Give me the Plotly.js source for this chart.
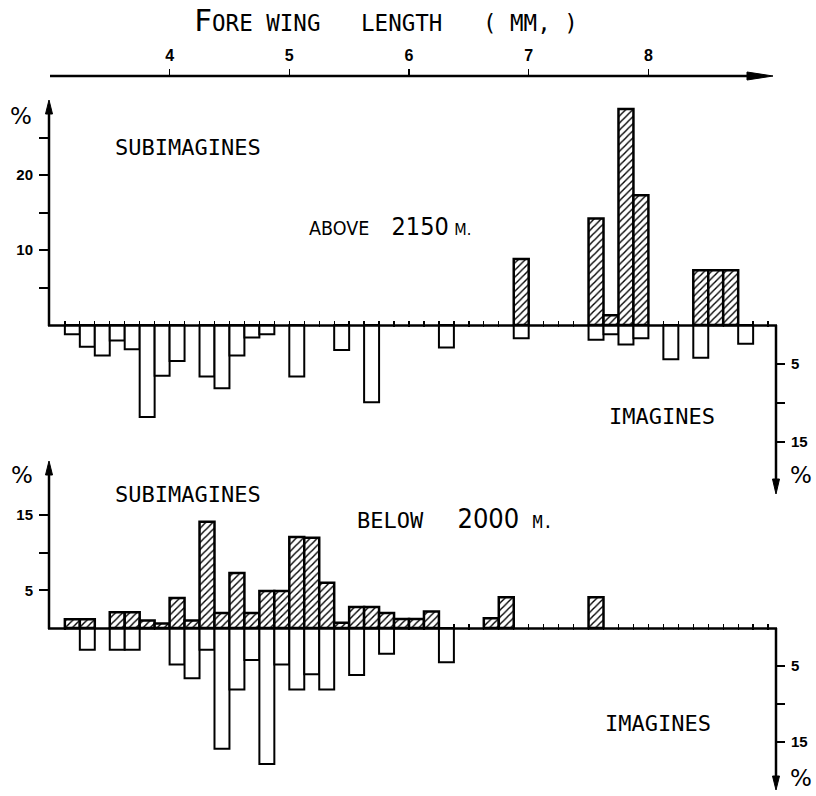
<!DOCTYPE html>
<html>
<head>
<meta charset="utf-8">
<script src="https://cdn.plot.ly/plotly-3.0.1.min.js"></script>
<style>html,body{margin:0;padding:0;background:#fff;}#chart{width:816px;height:796px;}</style>
</head>
<body>
<div id="chart"></div>
<script>
// ---- data (fore wing length bins of 0.125 mm, percentages) ----
const binMid = [3.1875, 3.3125, 3.4375, 3.5625, 3.6875, 3.8125, 3.9375, 4.0625, 4.1875, 4.3125,
  4.4375, 4.5625, 4.6875, 4.8125, 4.9375, 5.0625, 5.1875, 5.3125, 5.4375, 5.5625,
  5.6875, 5.8125, 5.9375, 6.0625, 6.1875, 6.3125, 6.4375, 6.5625, 6.6875, 6.8125,
  6.9375, 7.0625, 7.1875, 7.3125, 7.4375, 7.5625, 7.6875, 7.8125, 7.9375, 8.0625,
  8.1875, 8.3125, 8.4375, 8.5625, 8.6875, 8.8125, 8.9375];
const binEdges = [3.125, 3.25, 3.375, 3.5, 3.625, 3.75, 3.875, 4.0, 4.125, 4.25, 4.375, 4.5,
  4.625, 4.75, 4.875, 5.0, 5.125, 5.25, 5.375, 5.5, 5.625, 5.75, 5.875, 6.0, 6.125, 6.25,
  6.375, 6.5, 6.625, 6.75, 6.875, 7.0, 7.125, 7.25, 7.375, 7.5, 7.625, 7.75, 7.875, 8.0,
  8.125, 8.25, 8.375, 8.5, 8.625, 8.75, 8.875, 9.0];
const axisTicks = [4, 5, 6, 7, 8];

// above 2150 m
const aboveSub = [null, null, null, null, null, null, null, null, null, null,
  null, null, null, null, null, null, null, null, null, null,
  null, null, null, null, null, null, null, null, null, null,
  8.8, null, null, null, null, 14.2, 1.3, 28.8, 17.3, null,
  null, null, 7.3, 7.3, 7.3, null, null];
const aboveImag = [1.2, 2.8, 3.9, 2.0, 3.1, 11.8, 6.5, 4.6, null, 6.6,
  8.1, 3.9, 1.6, 1.2, null, 6.6, null, null, 3.2, null,
  9.9, null, null, null, null, 2.9, null, null, null, null,
  1.7, null, null, null, null, 1.9, 1.2, 2.5, 1.7, null,
  4.4, null, 4.2, null, null, 2.4, null];

// below 2000 m
const belowSub = [1.15, 1.15, null, 2.1, 2.1, 1.0, 0.6, 4.0, 1.0, 14.1,
  2.0, 7.3, 2.0, 4.9, 4.9, 12.1, 12.0, 6.0, 0.7, 2.8,
  2.8, 2.0, 1.2, 1.2, 2.2, null, null, null, 1.3, 4.1,
  null, null, null, null, null, 4.1, null, null, null, null,
  null, null, null, null, null, null, null];
const belowImag = [null, 2.85, null, 2.85, 2.85, null, null, 4.8, 6.6, 2.85,
  15.9, 8.1, 4.2, 17.9, 4.8, 8.1, 6.1, 8.1, null, 6.2,
  null, 3.4, null, null, null, 4.5, null, null, null, null,
  null, null, null, null, null, null, null, null, null, null,
  null, null, null, null, null, null, null];

const subTicksAbove = [5, 10, 15, 20, 25];
const subTickTextAbove = ['', '10', '', '20', ''];
const pctTicks = [5, 10, 15];
const pctTickText = ['5', '', '15'];

// ---- layout helpers (pixel -> paper) ----
const W = 816, H = 796;
const X = v => v / W;
const Y = v => 1 - v / H;
const ink = 'black';
const mono = 'DejaVu Sans Mono, Liberation Mono, monospace';
const narrow = 'Liberation Sans Narrow, DejaVu Sans Condensed, Liberation Sans, sans-serif';
const tickFont = {family: 'Liberation Sans, Arial, sans-serif', size: 15, color: ink, weight: 'bold'};

const hatch = {shape: '/', fgcolor: ink, bgcolor: 'white', size: 5, solidity: 0.28};

function subTrace(vals, yax) {
  return {type: 'bar', x: binMid, y: vals, width: 0.125, xaxis: 'x', yaxis: yax,
    marker: {color: 'white', pattern: hatch, line: {color: ink, width: 2.5}},
    hoverinfo: 'skip', showlegend: false};
}
function imagTrace(vals, yax) {
  return {type: 'bar', x: binMid, y: vals, width: 0.125, xaxis: 'x', yaxis: yax,
    marker: {color: 'white', line: {color: ink, width: 2}},
    hoverinfo: 'skip', showlegend: false};
}
// empty carrier traces so the baseline bin-edge tick axes get drawn
function carrier(xax, yax) {
  return {type: 'scatter', mode: 'markers', x: [binEdges[0]], y: [0], xaxis: xax, yaxis: yax,
    marker: {opacity: 0, size: 1}, hoverinfo: 'skip', showlegend: false};
}

const traces = [
  imagTrace(aboveImag, 'y2'),
  subTrace(aboveSub, 'y'),
  imagTrace(belowImag, 'y4'),
  subTrace(belowSub, 'y3'),
  carrier('x2', 'y'),
  carrier('x3', 'y3')
];

// x mapping: px = 409 + 119.7*(mm-6)
const xr = [6 - 409 / 119.7, 6 + (W - 409) / 119.7];

const baseAx = {showgrid: false, zeroline: false, showline: false, fixedrange: true};

function yAx(range, side, posPx, vals, text, len, extra) {
  return Object.assign({}, baseAx, {
    domain: [0, 1], range: range, side: side, anchor: 'free', position: X(posPx),
    tickmode: 'array', tickvals: vals, ticktext: text,
    ticks: 'outside', ticklen: len, tickwidth: 2, tickcolor: ink,
    tickfont: tickFont, ticklabelstandoff: 3
  }, extra || {});
}
function edgeAx(posPx) {
  return Object.assign({}, baseAx, {
    overlaying: 'x', range: xr, side: 'bottom', anchor: 'free', position: Y(posPx),
    tickmode: 'array', tickvals: binEdges, ticks: 'inside', ticklen: 5.5, tickwidth: 1.3,
    tickcolor: ink, showticklabels: false
  });
}

const layout = {
  width: W, height: H,
  margin: {l: 0, r: 0, t: 0, b: 0, pad: 0},
  paper_bgcolor: 'white', plot_bgcolor: 'rgba(0,0,0,0)',
  barmode: 'overlay', bargap: 0,
  showlegend: false,
  xaxis: Object.assign({}, baseAx, {
    domain: [0, 1], range: xr, side: 'top', anchor: 'free', position: Y(76),
    tickmode: 'array', tickvals: axisTicks, ticks: 'outside', ticklen: 7, tickwidth: 1.5,
    tickcolor: ink, tickfont: {family: 'Liberation Sans, Arial, sans-serif', size: 16, color: ink, weight: 'bold'},
    ticklabelstandoff: 2
  }),
  xaxis2: edgeAx(326.5),
  xaxis3: edgeAx(629.5),
  yaxis: yAx([-(H - 325) / 7.5, 325 / 7.5], 'left', 49, subTicksAbove, subTickTextAbove, 10),
  yaxis2: yAx([(H - 325) / 7.8, -325 / 7.8], 'right', 776, pctTicks, pctTickText, 8, {overlaying: 'y'}),
  yaxis3: yAx([-(H - 628) / 7.53, 628 / 7.53], 'left', 49, pctTicks, pctTickText, 10, {overlaying: 'y'}),
  yaxis4: yAx([(H - 628) / 7.6, -628 / 7.6], 'right', 776, pctTicks, pctTickText, 8, {overlaying: 'y'}),
  shapes: [],
  annotations: []
};

function line(x0, y0, x1, y1, w) {
  layout.shapes.push({type: 'line', xref: 'paper', yref: 'paper', x0: X(x0), y0: Y(y0), x1: X(x1), y1: Y(y1),
    line: {color: ink, width: w}, layer: 'above'});
}
function tri(p) {
  const d = 'M' + p.map(q => X(q[0]) + ',' + Y(q[1])).join(' L') + ' Z';
  layout.shapes.push({type: 'path', xref: 'paper', yref: 'paper', path: d, fillcolor: ink,
    line: {color: ink, width: 1}, layer: 'above'});
}
// top wing-length axis with arrow
line(50, 76, 752, 76, 2.5);
tri([[747, 72], [773, 76], [747, 80]]);
// upper panel
line(49, 326, 49, 110, 2.5);
tri([[45.5, 114], [49, 100], [52.5, 114]]);
line(48, 325.5, 777, 325.5, 2.5);
line(776, 325, 776, 482, 2.5);
tri([[772.5, 479], [776, 494], [779.5, 479]]);
// lower panel
line(49, 629, 49, 472, 2.5);
tri([[45.5, 475], [49, 461], [52.5, 475]]);
line(48, 628.5, 777, 628.5, 2.5);
line(776, 628, 776, 778, 2.5);
tri([[772.5, 776], [776, 790], [779.5, 776]]);

function note(text, x, y, font, xanchor) {
  layout.annotations.push({text: text, xref: 'paper', yref: 'paper', x: X(x), y: Y(y),
    xanchor: xanchor || 'center', yanchor: 'middle', showarrow: false, font: font});
}
const f = (fam, size) => ({family: fam, size: size, color: ink});

note("<span style='font-size:30px'>F</span>ORE WING   LENGTH   ( MM, )", 386, 21, f(mono, 22.5));
note('SUBIMAGINES', 188, 147, f(mono, 22));
note("<span style='font-family:" + narrow + "'>ABOVE    <span style='font-size:25px'>2150</span></span> <span style='font-size:16px'>M.</span>",
  307, 226, f(narrow, 19.5), 'left');
note('IMAGINES', 662, 416, f(mono, 22));
note('SUBIMAGINES', 188, 494, f(mono, 22));
note("BELOW  <span style='font-family:" + narrow + ";font-size:27px'> 2000</span> <span style='font-size:17px'>M.</span>",
  355, 518, f(mono, 22), 'left');
note('IMAGINES', 658, 723, f(mono, 22));
const pf = f('DejaVu Sans, sans-serif', 23);
note('%', 21, 116, pf);
note('%', 801, 475, pf);
note('%', 22, 475, pf);
note('%', 801, 778, pf);

Plotly.newPlot('chart', traces, layout, {staticPlot: true, displayModeBar: false});
</script>
</body>
</html>
